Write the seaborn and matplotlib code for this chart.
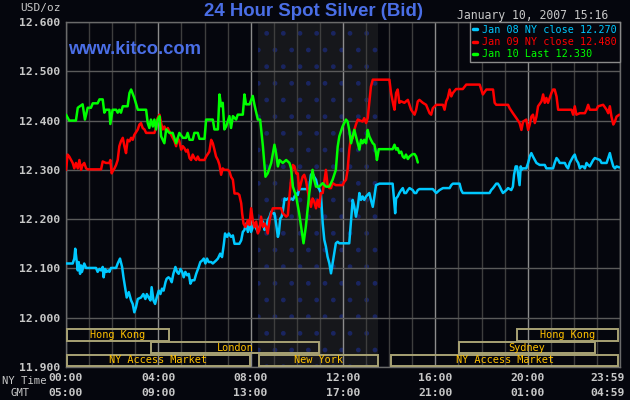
import matplotlib
matplotlib.use("Agg")
import matplotlib.pyplot as plt
from matplotlib.patches import Rectangle
from matplotlib.lines import Line2D
import seaborn as sns

# ---------------- data ----------------
jan08_hours = [0, 0.29, 0.36, 0.40, 0.46, 0.51, 0.55, 0.61, 0.65, 0.69, 0.79, 0.87, 1.30, 1.37, 1.45, 1.52,
               1.59, 1.63, 1.69, 1.76, 1.84, 1.88, 1.95, 2.17, 2.24, 2.34, 2.43, 2.49, 2.56, 2.63, 2.72, 2.82,
               2.89, 2.96, 3.03, 3.11, 3.25, 3.35, 3.44, 3.50, 3.58, 3.66, 3.71, 3.79, 3.86, 3.93, 4.02, 4.09,
               4.16, 4.23, 4.31, 4.36, 4.44, 4.51, 4.58, 4.65, 4.74, 4.81, 4.88, 4.96, 5.03, 5.10, 5.17, 5.25,
               5.32, 5.39, 5.46, 5.56, 5.64, 5.75, 5.82, 5.90, 5.97, 6.04, 6.11, 6.18, 6.29, 6.36, 6.43, 6.50,
               6.58, 6.68, 6.76, 6.84, 6.89, 6.98, 7.05, 7.15, 7.23, 7.30, 7.37, 7.51, 7.59, 7.66, 7.73, 7.80,
               7.88, 7.95, 8.02, 8.09, 8.16, 8.24, 8.31, 8.38, 8.45, 8.53, 8.60, 8.67, 8.74, 8.82, 8.89, 8.96,
               9.03, 9.10, 9.18, 9.22, 9.28, 9.34, 9.39, 9.47, 9.54, 9.61, 9.68, 9.75, 9.83, 9.90, 9.97, 10.04,
               10.10, 10.54, 10.61, 10.68, 10.75, 10.83, 10.90, 10.97, 11.04, 11.12, 11.19, 11.26, 11.33, 11.41,
               11.48, 11.55, 11.62, 11.69, 11.77, 11.84, 12.27, 12.35, 12.42, 12.49, 12.56, 12.64, 12.71, 12.78,
               12.85, 12.92, 13.00, 13.14, 13.21, 13.29, 13.36, 13.43, 13.58, 14.15, 14.20, 14.26, 14.30, 14.37,
               14.44, 14.52, 14.59, 14.66, 14.73, 14.81, 14.88, 15.02, 15.10, 15.17, 15.24, 15.31, 15.89, 16.04,
               16.18, 16.33, 16.62, 16.69, 16.76, 17.05, 17.12, 17.19, 18.35, 18.42, 18.50, 18.64, 18.71, 18.79,
               18.86, 18.93, 19.08, 19.15, 19.29, 19.36, 19.41, 19.48, 19.54, 19.58, 19.65, 19.70, 19.73, 19.80,
               19.94, 20.02, 20.09, 20.16, 20.23, 20.31, 20.38, 20.52, 20.74, 20.81, 20.88, 21.10, 21.17, 21.25,
               21.32, 21.39, 21.61, 21.68, 21.75, 21.82, 21.97, 22.04, 22.11, 22.19, 22.26, 22.33, 22.40, 22.48,
               22.55, 22.62, 22.69, 22.77, 22.84, 22.91, 23.13, 23.20, 23.42, 23.56, 23.63, 23.71, 23.78, 23.85,
               23.97]
jan08_price = [12.110, 12.110, 12.120, 12.140, 12.116, 12.096, 12.113, 12.089, 12.106, 12.093, 12.110, 12.101,
               12.101, 12.093, 12.099, 12.096, 12.103, 12.082, 12.099, 12.093, 12.096, 12.093, 12.101, 12.101,
               12.110, 12.120, 12.103, 12.082, 12.062, 12.041, 12.052, 12.035, 12.028, 12.011, 12.021, 12.038,
               12.041, 12.048, 12.038, 12.048, 12.041, 12.035, 12.062, 12.035, 12.028, 12.041, 12.055, 12.048,
               12.059, 12.055, 12.072, 12.079, 12.082, 12.079, 12.072, 12.089, 12.103, 12.093, 12.089, 12.099,
               12.093, 12.082, 12.093, 12.086, 12.089, 12.069, 12.076, 12.076, 12.089, 12.103, 12.113, 12.116,
               12.120, 12.110, 12.120, 12.113, 12.113, 12.110, 12.113, 12.116, 12.120, 12.130, 12.123, 12.150,
               12.171, 12.164, 12.171, 12.164, 12.167, 12.150, 12.150, 12.150, 12.157, 12.174, 12.178, 12.191,
               12.174, 12.191, 12.174, 12.184, 12.191, 12.181, 12.174, 12.184, 12.191, 12.195, 12.178, 12.184,
               12.198, 12.205, 12.215, 12.212, 12.212, 12.191, 12.164, 12.171, 12.201, 12.205, 12.215, 12.242,
               12.239, 12.242, 12.239, 12.242, 12.239, 12.246, 12.252, 12.249,
               12.261, 12.261, 12.290, 12.293, 12.286, 12.280, 12.266, 12.261, 12.253, 12.192, 12.158, 12.144,
               12.124, 12.110, 12.090, 12.110, 12.131, 12.151, 12.154, 12.151, 12.151, 12.198, 12.239, 12.225,
               12.205, 12.225, 12.253, 12.239, 12.246, 12.239, 12.246, 12.253, 12.239, 12.225, 12.246, 12.269,
               12.272, 12.272, 12.246, 12.212, 12.242, 12.246, 12.253, 12.259, 12.263, 12.253, 12.253, 12.259,
               12.263, 12.259, 12.253, 12.253, 12.259, 12.261, 12.261, 12.253, 12.259, 12.263, 12.263, 12.269,
               12.272, 12.272, 12.259, 12.253, 12.253, 12.259, 12.263, 12.272, 12.272, 12.266, 12.259, 12.253,
               12.259, 12.263, 12.259, 12.266, 12.290, 12.307, 12.307, 12.293, 12.269, 12.307, 12.300, 12.303,
               12.303, 12.314, 12.327, 12.334, 12.327, 12.320, 12.314, 12.310, 12.310, 12.303, 12.303, 12.303,
               12.314, 12.324, 12.320, 12.314, 12.314, 12.307, 12.303, 12.314, 12.327, 12.331, 12.320, 12.314,
               12.303, 12.307, 12.307, 12.303, 12.314, 12.310, 12.307, 12.314, 12.320, 12.324, 12.320, 12.314,
               12.314, 12.334, 12.320, 12.307, 12.303, 12.307, 12.305]

jan09_hours = [0, 0.07, 0.14, 0.22, 0.29, 0.36, 0.43, 0.51, 0.58, 0.65, 0.72, 0.79, 0.87, 0.94, 1.52, 1.59,
               1.73, 1.88, 1.92, 1.98, 2.02, 2.10, 2.17, 2.24, 2.31, 2.38, 2.46, 2.53, 2.60, 2.67, 2.75, 2.82,
               2.89, 2.96, 3.11, 3.18, 3.25, 3.32, 3.40, 3.47, 3.61, 3.83, 3.90, 3.97, 4.05, 4.12, 4.19, 4.26,
               4.34, 4.41, 4.48, 4.62, 4.70, 4.77, 4.84, 4.91, 4.99, 5.06, 5.13, 5.20, 5.27, 5.35, 5.42, 5.49,
               5.56, 5.64, 5.71, 5.78, 6.00, 6.07, 6.21, 6.29, 6.36, 6.43, 6.50, 6.58, 6.65, 6.72, 6.79, 6.86,
               7.01, 7.08, 7.15, 7.23, 7.30, 7.44, 7.51, 7.59, 7.63, 7.69, 7.77, 7.88, 7.95, 8.02, 8.09, 8.16,
               8.24, 8.31, 8.38, 8.45, 8.53, 8.60, 8.67, 8.74, 8.82, 8.89, 8.96, 9.10, 9.32, 9.39, 9.54, 9.61,
               9.68, 9.75, 9.83, 9.90, 9.97, 10.04,
               10.10, 10.25, 10.32, 10.39, 10.54, 10.61, 10.68, 10.75, 10.83, 10.90, 10.97, 11.04, 11.12, 11.26,
               11.33, 11.41, 11.48, 11.55, 11.69, 11.98, 12.06, 12.13, 12.20, 12.27, 12.35, 12.42, 12.49, 12.56,
               12.64, 12.85, 12.92, 13.00, 13.07, 13.14, 13.21, 13.29, 14.01, 14.08, 14.18, 14.23, 14.30, 14.37,
               14.44, 14.52, 14.66, 14.73, 14.81, 14.88, 14.95, 15.10, 15.17, 15.24, 15.31, 15.46, 15.60, 15.75,
               15.82, 15.89, 16.04, 16.33, 16.40, 16.47, 16.54, 16.62, 16.69, 16.76, 16.90, 17.19, 17.34, 17.92,
               18.06, 18.21, 18.35, 18.50, 18.57, 18.64, 19.15, 19.22, 19.36, 19.51, 19.65, 19.73, 19.80, 19.94,
               20.02, 20.09, 20.16, 20.23, 20.31, 20.38, 20.45, 20.60, 20.67, 20.74, 20.81, 20.88, 21.03, 21.10,
               21.17, 21.25, 21.32, 21.54, 21.90, 21.97, 22.04, 22.11, 22.26, 22.48, 22.55, 22.62, 22.69, 22.84,
               22.98, 23.05, 23.27, 23.42, 23.49, 23.56, 23.63, 23.71, 23.78, 23.85, 23.97]
jan09_price = [12.300, 12.331, 12.327, 12.320, 12.314, 12.303, 12.314, 12.303, 12.320, 12.300, 12.310, 12.314,
               12.303, 12.301, 12.301, 12.317, 12.314, 12.314, 12.320, 12.293, 12.297, 12.303, 12.310, 12.320,
               12.348, 12.358, 12.365, 12.348, 12.334, 12.361, 12.358, 12.365, 12.361, 12.371, 12.382, 12.392,
               12.395, 12.385, 12.382, 12.375, 12.375, 12.375, 12.385, 12.405, 12.412, 12.395, 12.382, 12.388,
               12.378, 12.385, 12.378, 12.365, 12.358, 12.348, 12.365, 12.358, 12.341, 12.348, 12.344, 12.337,
               12.341, 12.324, 12.320, 12.331, 12.324, 12.320, 12.327, 12.320, 12.320, 12.327, 12.337, 12.361,
               12.354, 12.341, 12.327, 12.320, 12.310, 12.290, 12.303, 12.300, 12.300, 12.297, 12.286, 12.280,
               12.252, 12.252, 12.249, 12.232, 12.212, 12.191, 12.184, 12.198, 12.188, 12.222, 12.198, 12.184,
               12.195, 12.171, 12.178, 12.205, 12.184, 12.191, 12.184, 12.171, 12.198, 12.212, 12.222, 12.222,
               12.222, 12.212, 12.205, 12.208, 12.246, 12.280, 12.310, 12.307, 12.293, 12.293,
               12.259, 12.286, 12.290, 12.280, 12.239, 12.225, 12.242, 12.236, 12.222, 12.239, 12.225, 12.253,
               12.253, 12.300, 12.270, 12.263, 12.263, 12.273, 12.269, 12.269, 12.276, 12.280, 12.300, 12.340,
               12.368, 12.364, 12.381, 12.392, 12.402, 12.398, 12.405, 12.395, 12.405, 12.436, 12.469, 12.483,
               12.483, 12.456, 12.432, 12.422, 12.456, 12.463, 12.436, 12.439, 12.436, 12.439, 12.442, 12.432,
               12.422, 12.412, 12.422, 12.439, 12.442, 12.436, 12.432, 12.415, 12.412, 12.425, 12.432, 12.432,
               12.422, 12.439, 12.446, 12.463, 12.449, 12.456, 12.464, 12.464, 12.473, 12.473, 12.453, 12.463,
               12.463, 12.463, 12.436, 12.432, 12.432, 12.425, 12.415, 12.405, 12.395, 12.381, 12.398, 12.402,
               12.381, 12.392, 12.408, 12.412, 12.395, 12.408, 12.429, 12.439, 12.453, 12.436, 12.446, 12.436,
               12.456, 12.463, 12.463, 12.449, 12.422, 12.422, 12.422, 12.412, 12.429, 12.412, 12.415, 12.415,
               12.422, 12.432, 12.422, 12.422, 12.422, 12.429, 12.432, 12.422, 12.415, 12.429, 12.408, 12.392,
               12.398, 12.408, 12.412]

jan10_hours = [0, 0.14, 0.43, 0.51, 0.72, 0.82, 0.94, 1.08, 1.16, 1.37, 1.45, 1.59, 1.66, 1.73, 1.88, 1.92,
               2.02, 2.17, 2.24, 2.31, 2.38, 2.46, 2.67, 2.75, 2.82, 2.96, 3.11, 3.18, 3.47, 3.54, 3.61, 3.68,
               3.76, 3.83, 3.90, 3.97, 4.05, 4.12, 4.26, 4.34, 4.48, 4.62, 4.77, 4.91, 5.06, 5.20, 5.27, 5.35,
               5.49, 5.56, 5.71, 5.78, 6.00, 6.07, 6.21, 6.36, 6.43, 6.58, 6.65, 6.72, 6.79, 6.86, 6.94, 7.08,
               7.15, 7.23, 7.37, 7.44, 7.59, 7.66, 7.73, 7.80, 7.95, 8.09, 8.16, 8.31, 8.41, 8.53, 8.64, 8.74,
               8.89, 9.03, 9.10, 9.18, 9.25, 9.39, 9.54, 9.68, 9.75, 9.83, 9.97,
               10.10, 10.29, 10.39, 10.54, 10.68, 10.75, 10.83, 10.97, 11.12, 11.26, 11.41, 11.55, 11.69, 11.77,
               11.84, 11.98, 12.13, 12.20, 12.27, 12.35, 12.42, 12.49, 12.56, 12.64, 12.71, 12.78, 12.85, 12.92,
               13.00, 13.07, 13.14, 13.21, 13.29, 13.36, 13.43, 13.47, 13.55, 14.15, 14.23, 14.30, 14.37, 14.44,
               14.52, 14.59, 14.66, 14.73, 14.81, 14.88, 15.02, 15.10, 15.17, 15.24]
jan10_price = [12.412, 12.400, 12.400, 12.426, 12.433, 12.402, 12.426, 12.426, 12.435, 12.435, 12.443, 12.443,
               12.416, 12.422, 12.422, 12.393, 12.422, 12.422, 12.416, 12.422, 12.416, 12.429, 12.429, 12.456,
               12.463, 12.446, 12.422, 12.422, 12.422, 12.395, 12.385, 12.402, 12.388, 12.402, 12.382, 12.402,
               12.409, 12.368, 12.354, 12.382, 12.375, 12.375, 12.354, 12.375, 12.365, 12.365, 12.375, 12.361,
               12.361, 12.375, 12.375, 12.363, 12.363, 12.402, 12.402, 12.402, 12.382, 12.382, 12.453, 12.429,
               12.436, 12.382, 12.388, 12.409, 12.385, 12.409, 12.402, 12.412, 12.412, 12.412, 12.453, 12.433,
               12.433, 12.450, 12.433, 12.402, 12.402, 12.348, 12.286, 12.293, 12.314, 12.351, 12.334, 12.307,
               12.320, 12.314, 12.320, 12.314, 12.303, 12.266, 12.246,
               12.212, 12.151, 12.185, 12.253, 12.300, 12.280, 12.266, 12.266, 12.273, 12.266, 12.266, 12.280,
               12.300, 12.347, 12.368, 12.388, 12.402, 12.398, 12.381, 12.354, 12.368, 12.381, 12.368, 12.354,
               12.341, 12.361, 12.354, 12.361, 12.354, 12.381, 12.368, 12.361, 12.354, 12.351, 12.334, 12.320,
               12.342, 12.342, 12.351, 12.341, 12.344, 12.334, 12.337, 12.327, 12.324, 12.331, 12.322, 12.327,
               12.332, 12.332, 12.327, 12.315]

series_labels = ["Jan 08 NY close 12.270", "Jan 09 NY close 12.480", "Jan 10 Last 12.330"]
series_colors = ["#00c8ff", "#ff0000", "#00ff00"]

price_ticks = [11.9, 12.0, 12.1, 12.2, 12.3, 12.4, 12.5, 12.6]
hour_ticks = [0, 4, 8, 12, 16, 20, 24]
ny_time_labels = ["00:00", "04:00", "08:00", "12:00", "16:00", "20:00", "23:59"]
gmt_labels = ["05:00", "09:00", "13:00", "17:00", "21:00", "01:00", "04:59"]

comex_session = (8.33, 13.53)
# (name, start hour, end hour, row from bottom)
sessions = [
    ("Hong Kong", 0.0, 4.5, 2),
    ("London", 3.65, 11.0, 1),
    ("NY Access Market", 0.0, 8.0, 0),
    ("New York", 8.33, 13.53, 0),
    ("NY Access Market", 14.07, 23.93, 0),
    ("Sydney", 17.0, 22.95, 1),
    ("Hong Kong", 19.5, 23.93, 2),
]

# ---------------- style ----------------
sns.set_style("dark")
BG = "#05060d"
MONO = "DejaVu Sans Mono"
plt.rcParams["font.family"] = ["DejaVu Sans"]
plt.rcParams["hatch.linewidth"] = 1.0

fig = plt.figure(figsize=(6.3, 4.0), dpi=100, facecolor=BG)
ax = fig.add_axes([66 / 630, 33 / 400, 554 / 630, 345 / 400])
ax.set_facecolor(BG)

ax.set_xlim(0, 24)
ax.set_ylim(11.9, 12.6)

# Comex shading
ax.axvspan(*comex_session, facecolor="#16171b", edgecolor="none", zorder=0)
ax.axvspan(*comex_session, facecolor="none", edgecolor="#1a2560", hatch=".", linewidth=0, zorder=0.1)

# grid
ax.set_xticks(hour_ticks)
ax.set_xticks(range(0, 25), minor=True)
ax.set_yticks(price_ticks)
ax.set_yticklabels([f"{v:.3f}" for v in price_ticks], family=MONO, fontsize=8.2,
                   fontweight="bold", color="#c8c8c8")
ax.set_xticklabels([])
ax.tick_params(axis="both", which="both", length=0)
ax.tick_params(axis="y", pad=4)
ax.grid(True, which="minor", axis="x", color="#3e3e3e", linewidth=1.0, zorder=0.5)
ax.grid(True, which="major", axis="x", color="#8c8c8c", linewidth=1.0, zorder=0.5)
ax.grid(True, which="major", axis="y", color="#5a5a5a", linewidth=1.0, zorder=0.5)
ax.set_axisbelow(True)
for sp in ax.spines.values():
    sp.set_color("#6a6a6a")
    sp.set_linewidth(1.0)

# series
handles = []
for hrs, prc, col, lab in [(jan08_hours, jan08_price, series_colors[0], series_labels[0]),
                           (jan09_hours, jan09_price, series_colors[1], series_labels[1]),
                           (jan10_hours, jan10_price, series_colors[2], series_labels[2])]:
    sns.lineplot(x=hrs, y=prc, ax=ax, color=col, linewidth=1.8, zorder=3, legend=False)
    handles.append(Line2D([], [], color=col, linewidth=2.5))

leg = ax.legend(handles, series_labels, loc="upper right", bbox_to_anchor=(1.0, 1.0),
                frameon=True, fancybox=False, facecolor=BG, edgecolor="#8a8a8a", framealpha=1,
                prop={"family": MONO, "size": 7.3}, handlelength=0.45, handletextpad=0.5,
                borderpad=0.3, labelspacing=0.2, borderaxespad=0.0)
leg.get_frame().set_linewidth(1.0)
leg._legend_box.align = "left"
for t, c in zip(leg.get_texts(), series_colors):
    t.set_color(c)

# session boxes
row_h = 0.0257
for name, s, e, row in sessions:
    y0 = 11.9 + row * row_h + 0.002
    ax.add_patch(Rectangle((s + 0.03, y0), e - s - 0.06, row_h - 0.003, facecolor="none",
                           edgecolor="#a8a274", linewidth=1.4, zorder=4))
    ax.text((s + e) / 2, y0 + row_h / 2 - 0.0015, name, ha="center", va="center", family=MONO,
            fontsize=7.4, color="#ffc000", zorder=5)

# time labels
xt = ax.get_xaxis_transform()
for h, ny, gmt in zip(hour_ticks, ny_time_labels, gmt_labels):
    dx = -12 if h == 24 else 0
    ax.annotate(ny, xy=(h, 0), xycoords=xt, xytext=(dx * 0.72, -8), textcoords="offset points",
                ha="center", va="center", family=MONO, fontsize=8.2, fontweight="bold", color="#c8c8c8",
                annotation_clip=False)
    ax.annotate(gmt, xy=(h, 0), xycoords=xt, xytext=(dx * 0.72, -19), textcoords="offset points",
                ha="center", va="center", family=MONO, fontsize=8.2, fontweight="bold", color="#c8c8c8",
                annotation_clip=False)

fig.text(24 / 630, 1 - 381 / 400, "NY Time", ha="center", va="center", family=MONO, fontsize=7.6,
         color="#c8c8c8")
fig.text(20 / 630, 1 - 393 / 400, "GMT", ha="center", va="center", family=MONO, fontsize=7.6,
         color="#c8c8c8")

# header texts
fig.text(314 / 630, 1 - 11 / 400, "24 Hour Spot Silver (Bid)", ha="center", va="center",
         family="Liberation Sans", fontweight="bold", fontsize=13.4, color="#4a6ee6")
fig.text(68 / 630, 1 - 50 / 400, "www.kitco.com", ha="left", va="center",
         family="Liberation Sans", fontweight="bold", fontsize=13.2, color="#4a6ee6")
fig.text(608 / 630, 1 - 15 / 400, "January 10, 2007 15:16", ha="right", va="center",
         family=MONO, fontsize=8.3, color="#c8c8c8")
fig.text(20 / 630, 1 - 8 / 400, "USD/oz", ha="left", va="center", family=MONO, fontsize=8,
         color="#c8c8c8")

fig.savefig("out.png", dpi=100, facecolor=BG)
